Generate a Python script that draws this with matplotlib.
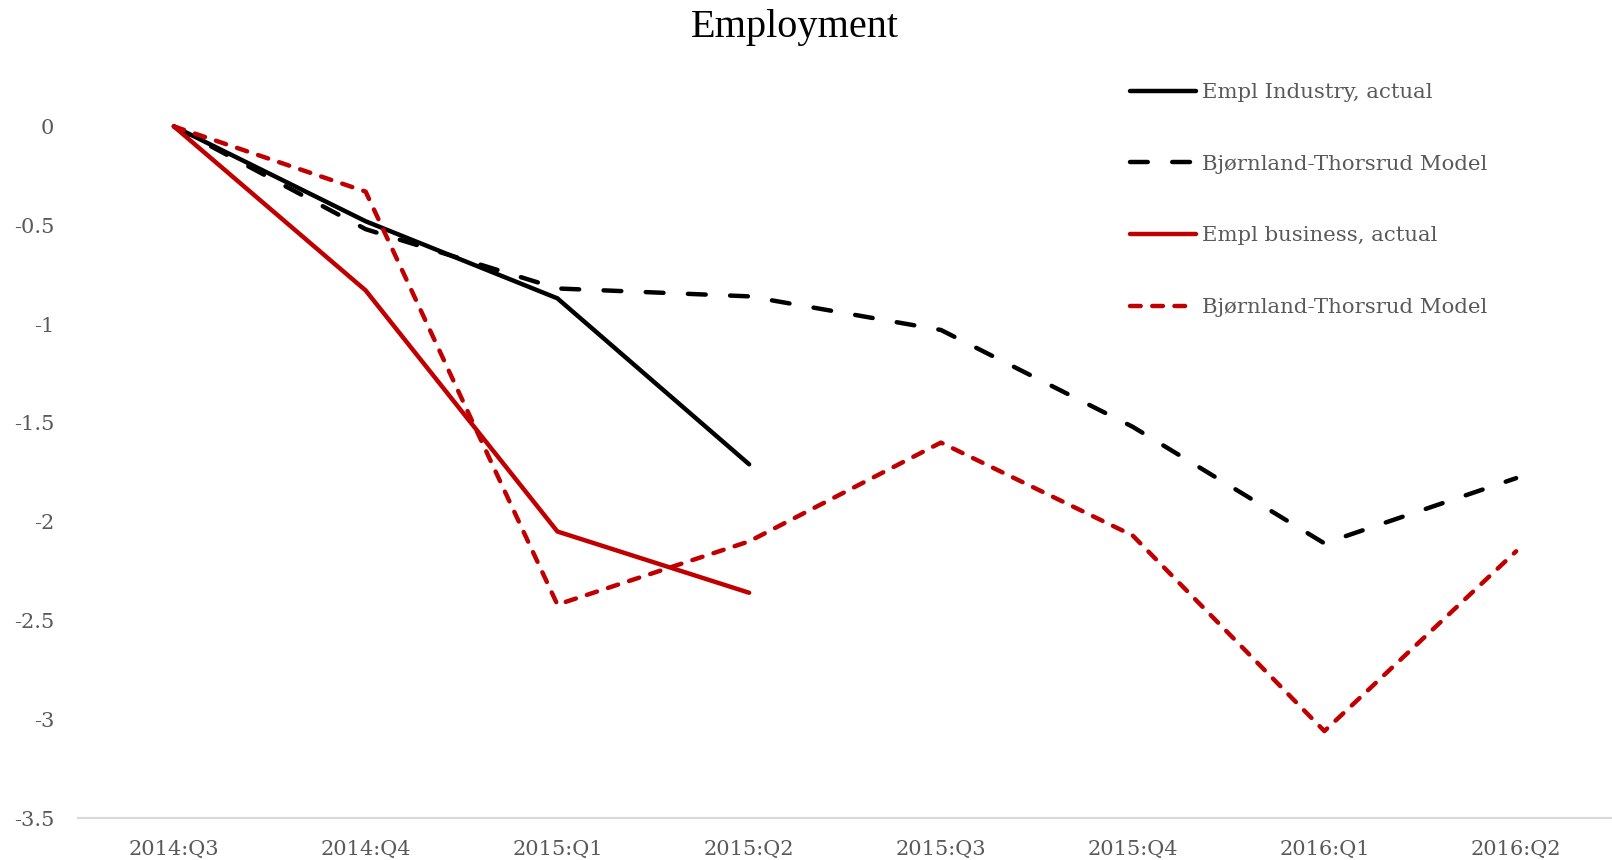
import matplotlib
matplotlib.use('Agg')
import matplotlib.pyplot as plt

quarters = ['2014:Q3', '2014:Q4', '2015:Q1', '2015:Q2',
            '2015:Q3', '2015:Q4', '2016:Q1', '2016:Q2']

# verdier lest av figuren
industry_actual = [0.0, -0.48, -0.87, -1.71]
industry_model = [0.0, -0.52, -0.82, -0.86, -1.03, -1.52, -2.11, -1.78]
business_actual = [0.0, -0.83, -2.05, -2.36]
business_model = [0.0, -0.33, -2.42, -2.10, -1.60, -2.07, -3.06, -2.15]

yticks = [0, -0.5, -1, -1.5, -2, -2.5, -3, -3.5]
ytick_labels = ['0', '-0.5', '-1', '-1.5', '-2', '-2.5', '-3', '-3.5']

RED = '#C00000'
GREY = '#595959'
TICKFONT = 'DejaVu Serif'

fig = plt.figure(figsize=(16.12, 8.6), dpi=100)
ax = fig.add_axes([0.0484, 0.0488, 0.9516, 0.8042])

x_all = list(range(len(quarters)))
lw = 3.2

ax.plot(x_all[:len(industry_actual)], industry_actual, color='black', lw=lw,
        solid_capstyle='round', clip_on=False, label='Empl Industry, actual')
ax.plot(x_all, industry_model, color='black', lw=lw, dashes=(4, 5.5),
        dash_capstyle='round', clip_on=False, label='Bjørnland-Thorsrud Model')
ax.plot(x_all[:len(business_actual)], business_actual, color=RED, lw=lw,
        solid_capstyle='round', clip_on=False, label='Empl business, actual')
ax.plot(x_all, business_model, color=RED, lw=lw, dashes=(2.4, 2.6),
        dash_capstyle='round', clip_on=False, label='Bjørnland-Thorsrud Model')

ax.set_xlim(-0.5, len(quarters) - 0.5)
ax.set_ylim(-3.5, 0)
ax.set_xticks(x_all)
ax.set_xticklabels(quarters, family=TICKFONT, fontsize=15, color=GREY)
ax.set_yticks(yticks)
ax.set_yticklabels(ytick_labels, family=TICKFONT, fontsize=15, color=GREY)
ax.tick_params(axis='both', length=0)
ax.tick_params(axis='x', pad=15.5)
ax.tick_params(axis='y', pad=17)

for side in ['top', 'right', 'left']:
    ax.spines[side].set_visible(False)
ax.spines['bottom'].set_color('#D9D9D9')
ax.spines['bottom'].set_linewidth(1.5)

fig.text(0.493, 1 - 27 / 860, 'Employment', ha='center', va='center',
         family='Liberation Serif', fontsize=29, color='black')

leg = fig.legend(loc='upper left', bbox_to_anchor=(1130 / 1612, 1 - 83 / 860),
                 frameon=False, handlelength=3.1, handletextpad=0.3,
                 labelspacing=2.48, borderaxespad=0, borderpad=0,
                 prop={'family': TICKFONT, 'size': 15.3})
for t in leg.get_texts():
    t.set_color(GREY)

fig.savefig('out.png', dpi=100)
